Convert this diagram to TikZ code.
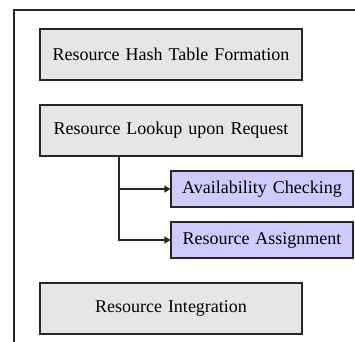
\documentclass[tikz,border=0pt]{standalone}
\usepackage{fontspec}
\setmainfont{Liberation Serif}
\usetikzlibrary{arrows.meta}
\definecolor{boxgray}{HTML}{E6E6E6}
\definecolor{boxblue}{HTML}{CCCCFF}
\newcommand{\boxfont}{\fontsize{18}{21}\selectfont\spaceskip=6pt plus 1pt\relax}
\tikzset{
  stagebox/.style={draw=black!85, line width=1.2pt, fill=boxgray, minimum width=262pt, minimum height=51pt, inner sep=0pt, font=\boxfont},
  subbox/.style={draw=black!85, line width=1.2pt, fill=boxblue, minimum width=182pt, minimum height=36pt, inner sep=0pt, font=\boxfont},
  conn/.style={line width=1.2pt, draw=black!85, -{Triangle[length=6pt,width=7pt]}},
  frame/.style={line width=1.2pt, draw=black!85}
}
\begin{document}
\begin{tikzpicture}[x=1pt,y=-1pt]
\useasboundingbox (0,0) rectangle (355,341);
\draw[frame] (360,10) -- (14,10) -- (14,346);
\node[stagebox] (hash) at (171,54.5) {Resource Hash Table Formation};
\node[stagebox] (lookup) at (171,130.5) {Resource Lookup upon Request};
\node[subbox] (avail) at (262,189) {Availability Checking};
\node[subbox] (assign) at (262,240) {Resource Assignment};
\node[stagebox] (integ) at (171,308.5) {Resource Integration};
\coordinate (bend) at (119,0);
\draw[line width=1.2pt, draw=black!85] (lookup.south -| bend) -- (bend |- assign.west) -- (assign.west);
\draw[conn] (bend |- avail.west) -- (avail.west);
\draw[conn] (bend |- assign.west) -- (assign.west);
\end{tikzpicture}
\end{document}
